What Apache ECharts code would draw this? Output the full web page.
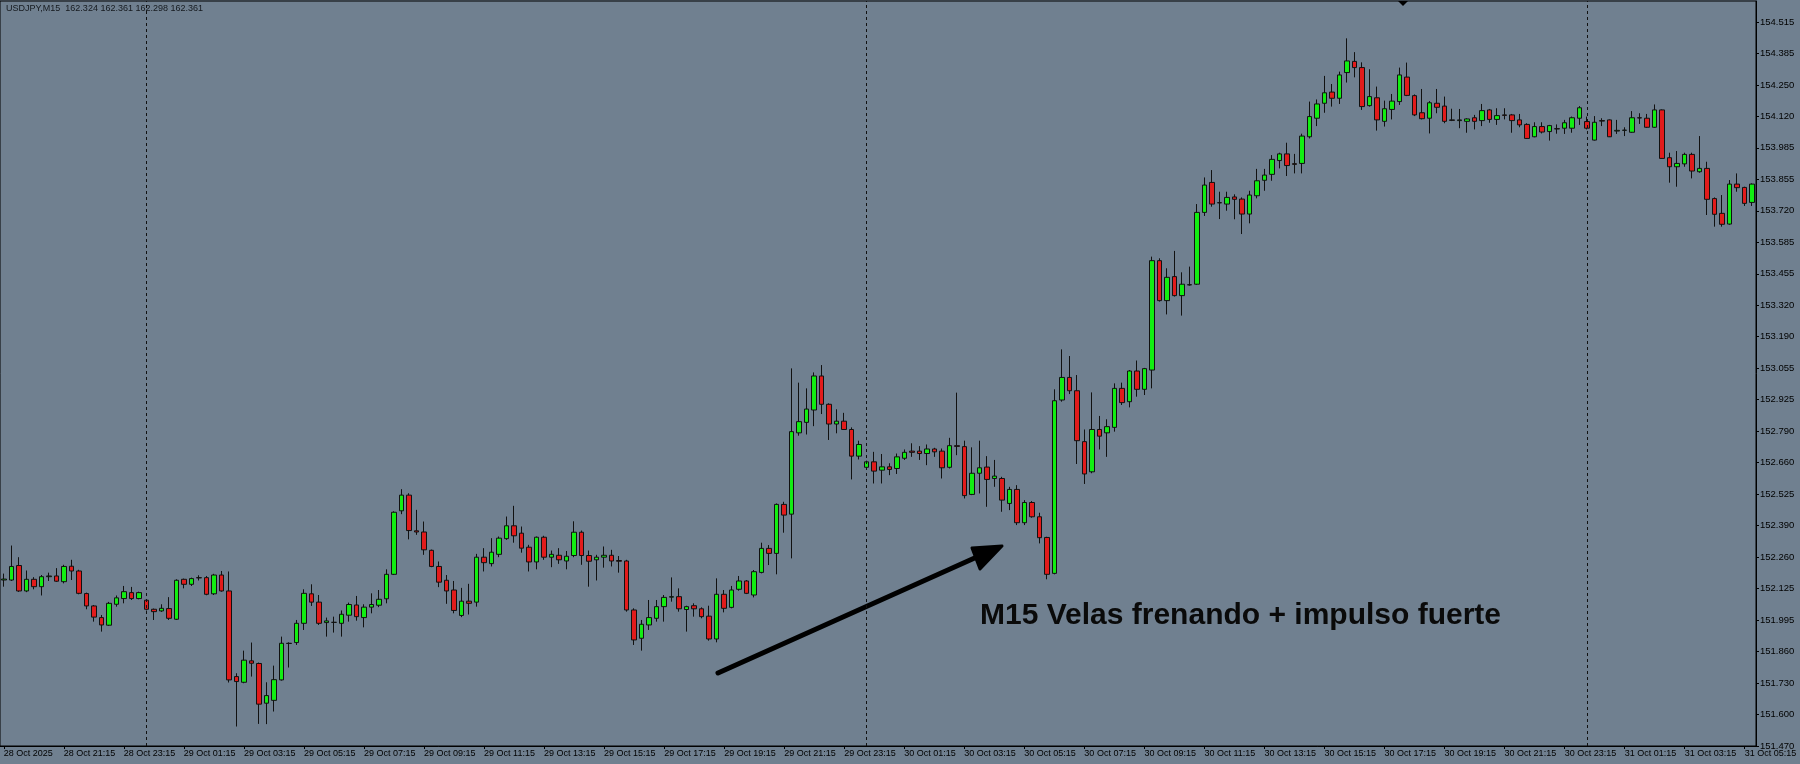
<!DOCTYPE html>
<html>
<head>
    <meta charset="utf-8">
    <title>USDJPY M15</title>
    <script src="https://cdn.jsdelivr.net/npm/echarts@6/dist/echarts.min.js"></script>
    <style>
        html, body { margin: 0; padding: 0; background: #708090; }
        #main { width: 1800px; height: 764px; }
    </style>
</head>
<body>
    <div id="main"></div>
    <script type="text/javascript">
        // USDJPY M15 candles, 28 Oct 19:15 .. 31 Oct 05:30
        var opens = [
            152.168,152.168,152.229,152.122,152.171,152.140,152.182,152.185,152.161,152.226,
            152.206,152.111,152.059,152.010,151.978,152.066,152.090,152.115,152.090,152.083,
            152.045,152.038,152.048,152.003,152.171,152.150,152.178,152.178,152.110,152.189,
            152.122,151.762,151.738,151.828,151.817,151.650,151.662,151.748,151.901,151.905,
            151.986,152.110,152.075,151.989,151.990,151.986,152.020,152.063,152.010,152.054,
            152.062,152.089,152.192,152.459,152.525,152.375,152.370,152.293,152.225,152.167,
            152.126,152.019,152.079,152.075,152.264,152.237,152.276,152.342,152.396,152.365,
            152.306,152.244,152.348,152.264,152.272,152.248,152.271,152.369,152.271,152.253,
            152.264,152.272,152.250,152.248,152.042,151.923,151.979,152.007,152.056,152.096,
            152.098,152.044,152.060,152.047,152.016,151.920,152.108,152.053,152.129,152.164,
            152.105,152.200,152.301,152.280,152.486,152.445,152.787,152.831,152.883,153.026,
            152.907,152.824,152.836,152.801,152.689,152.642,152.665,152.630,152.644,152.637,
            152.680,152.710,152.710,152.700,152.719,152.710,152.642,152.733,152.729,152.528,
            152.617,152.643,152.595,152.595,152.490,152.549,152.409,152.494,152.434,152.347,
            152.196,152.925,153.020,152.964,152.750,152.623,152.801,152.787,152.810,152.974,
            152.918,153.047,152.970,153.051,153.511,153.343,153.444,153.364,153.409,153.412,
            153.714,153.840,153.755,153.749,153.779,153.770,153.707,153.784,153.849,153.874,
            153.932,153.960,153.919,153.920,154.032,154.110,154.173,154.220,154.194,154.302,
            154.349,154.323,154.163,154.196,154.097,154.147,154.180,154.283,154.205,154.133,
            154.110,154.173,154.161,154.103,154.100,154.097,154.112,154.100,154.145,154.105,
            154.124,154.124,154.103,154.084,154.032,154.075,154.054,154.066,154.068,154.068,
            154.110,154.096,154.018,154.100,154.103,154.056,154.059,154.051,154.112,154.110,
            154.072,154.145,153.944,153.906,153.918,153.958,153.885,153.899,153.772,153.710,
            153.665,153.833,153.819,153.756
        ];
        var highs = [
            152.195,152.313,152.264,152.208,152.180,152.189,152.199,152.218,152.232,152.253,
            152.211,152.115,152.063,152.021,152.076,152.103,152.143,152.139,152.119,152.087,
            152.048,152.066,152.096,152.171,152.174,152.178,152.188,152.185,152.194,152.206,
            152.204,151.776,151.871,151.905,151.821,151.738,151.808,151.930,151.906,152.000,
            152.129,152.150,152.105,152.010,152.014,152.040,152.073,152.101,152.066,152.112,
            152.126,152.213,152.457,152.550,152.533,152.463,152.414,152.296,152.246,152.189,
            152.164,152.135,152.152,152.278,152.302,152.344,152.351,152.435,152.480,152.393,
            152.316,152.351,152.354,152.292,152.302,152.290,152.415,152.376,152.292,152.274,
            152.309,152.295,152.269,152.253,152.049,152.000,152.084,152.084,152.105,152.179,
            152.133,152.060,152.070,152.053,152.060,152.175,152.126,152.143,152.185,152.168,
            152.210,152.325,152.315,152.490,152.497,153.058,152.998,152.974,153.041,153.072,
            152.911,152.886,152.871,152.810,152.754,152.670,152.707,152.698,152.659,152.700,
            152.717,152.743,152.731,152.738,152.724,152.721,152.766,152.956,152.754,152.726,
            152.754,152.689,152.673,152.602,152.560,152.567,152.504,152.500,152.451,152.350,
            152.970,153.138,153.110,153.030,152.801,152.957,152.858,152.844,152.995,152.998,
            153.051,153.091,153.060,153.528,153.521,153.479,153.552,153.462,153.486,153.749,
            153.861,153.892,153.801,153.801,153.790,153.777,153.805,153.897,153.897,153.955,
            153.965,154.007,153.960,154.045,154.180,154.189,154.288,154.254,154.306,154.446,
            154.388,154.345,154.316,154.243,154.184,154.212,154.323,154.344,154.210,154.233,
            154.182,154.233,154.201,154.150,154.149,154.110,154.124,154.170,154.149,154.152,
            154.152,154.128,154.128,154.089,154.093,154.093,154.082,154.084,154.103,154.117,
            154.161,154.117,154.119,154.110,154.105,154.103,154.072,154.140,154.131,154.128,
            154.168,154.147,153.965,153.972,153.965,153.965,154.035,153.927,153.777,153.787,
            153.850,153.878,153.822,153.836
        ];
        var lows = [
            152.140,152.164,152.118,152.117,152.129,152.103,152.164,152.160,152.154,152.168,
            152.108,152.045,151.993,151.951,151.975,152.056,152.070,152.084,152.087,152.040,
            152.000,152.034,152.000,152.000,152.133,152.143,152.166,152.104,152.105,152.119,
            151.737,151.552,151.734,151.762,151.563,151.562,151.615,151.745,151.800,151.895,
            151.958,152.059,151.979,151.930,151.947,151.930,151.993,151.997,151.969,152.028,
            152.054,152.070,152.189,152.445,152.339,152.358,152.274,152.222,152.138,152.068,
            152.028,152.012,152.023,152.056,152.204,152.225,152.264,152.337,152.325,152.283,
            152.204,152.213,152.253,152.222,152.236,152.213,152.264,152.232,152.140,152.166,
            152.220,152.225,152.199,152.035,151.895,151.871,151.958,151.993,151.993,152.077,
            152.035,151.951,152.014,152.007,151.913,151.906,152.032,152.049,152.123,152.109,
            152.095,152.196,152.231,152.192,152.367,152.259,152.775,152.780,152.815,152.866,
            152.757,152.785,152.799,152.591,152.675,152.637,152.574,152.574,152.609,152.614,
            152.673,152.686,152.673,152.651,152.686,152.595,152.637,152.693,152.511,152.525,
            152.532,152.476,152.560,152.455,152.462,152.399,152.399,152.430,152.322,152.171,
            152.192,152.918,152.950,152.656,152.572,152.617,152.717,152.686,152.792,152.904,
            152.894,152.939,152.946,152.974,153.339,153.285,153.360,153.280,153.406,153.409,
            153.699,153.738,153.686,153.721,153.685,153.623,153.668,153.773,153.805,153.847,
            153.899,153.867,153.878,153.878,154.025,154.077,154.133,154.159,154.170,154.260,
            154.282,154.145,154.159,154.058,154.075,154.105,154.166,154.203,154.119,154.105,
            154.046,154.131,154.089,154.098,154.068,154.049,154.063,154.077,154.091,154.082,
            154.105,154.049,154.072,154.023,154.030,154.046,154.016,154.045,154.044,154.049,
            154.082,154.063,154.016,154.077,154.031,154.044,154.035,154.049,154.086,154.069,
            154.070,153.940,153.839,153.822,153.906,153.857,153.881,153.703,153.654,153.654,
            153.662,153.801,153.741,153.741
        ];
        var closes = [
            152.172,152.225,152.122,152.171,152.140,152.182,152.185,152.163,152.225,152.206,
            152.112,152.059,152.012,151.979,152.070,152.093,152.119,152.090,152.115,152.045,
            152.035,152.049,152.007,152.167,152.150,152.174,152.177,152.108,152.189,152.122,
            151.748,151.741,151.831,151.818,151.646,151.682,151.749,151.902,151.902,151.986,
            152.112,152.075,151.986,151.996,151.990,152.024,152.065,152.014,152.054,152.065,
            152.087,152.192,152.453,152.525,152.376,152.370,152.295,152.225,152.159,152.122,
            152.040,152.079,152.070,152.264,152.241,152.285,152.344,152.396,152.354,152.302,
            152.244,152.348,152.264,152.276,152.253,152.268,152.369,152.271,152.247,152.264,
            152.272,152.248,152.247,152.042,151.916,151.982,152.010,152.056,152.095,152.098,
            152.047,152.056,152.047,152.014,151.920,152.108,152.049,152.126,152.164,152.112,
            152.203,152.301,152.280,152.486,152.441,152.792,152.834,152.887,153.026,152.907,
            152.824,152.836,152.801,152.689,152.738,152.665,152.626,152.644,152.633,152.686,
            152.705,152.705,152.700,152.719,152.707,152.640,152.733,152.730,152.523,152.617,
            152.640,152.591,152.605,152.504,152.549,152.409,152.494,152.434,152.346,152.192,
            152.922,153.020,152.964,152.754,152.614,152.801,152.773,152.813,152.974,152.914,
            153.047,152.970,153.057,153.511,153.343,153.441,153.364,153.412,153.410,153.714,
            153.829,153.749,153.754,153.777,153.769,153.707,153.787,153.847,153.871,153.937,
            153.960,153.911,153.916,154.035,154.117,154.170,154.217,154.194,154.292,154.351,
            154.323,154.159,154.201,154.103,154.150,154.182,154.292,154.206,154.124,154.108,
            154.175,154.156,154.097,154.101,154.103,154.107,154.097,154.142,154.105,154.121,
            154.122,154.100,154.082,154.025,154.075,154.052,154.079,154.065,154.091,154.112,
            154.154,154.068,154.093,154.098,154.032,154.059,154.060,154.112,154.111,154.072,
            154.145,153.941,153.906,153.920,153.958,153.888,153.899,153.769,153.706,153.664,
            153.833,153.818,153.752,153.833
        ];

        // price scale labels as MT4 prints them (bottom to top)
        var yTickLabels = ['151.470','151.600','151.730','151.860','151.995','152.125','152.260',
            '152.390','152.525','152.660','152.790','152.925','153.055','153.190','153.320',
            '153.455','153.585','153.720','153.855','153.985','154.120','154.250','154.385','154.515'];
        var yMin = 151.470;
        var yStep = 3.045 / 23;
        var yMax = 154.603;

        // bar times: first bar 28 Oct 19:15, one bar every 15 minutes
        var firstBarDay = 28, firstBarMinute = 19 * 60 + 15;
        var separatorBars = [19, 115, 211];   // day starts
        var firstLabel = '28 Oct 2025';
        var headerText = 'USDJPY,M15  162.324 162.361 162.298 162.361';
        var noteText = 'M15 Velas frenando + impulso fuerte';

        function pad(n) { return (n < 10 ? '0' : '') + n; }
        var times = [];
        for (var i = 0; i < opens.length; i++) {
            var m = firstBarMinute + 15 * i;
            var d = firstBarDay + Math.floor(m / 1440);
            m = m % 1440;
            times.push(d + ' Oct ' + pad(Math.floor(m / 60)) + ':' + pad(m % 60));
        }

        var candles = [];
        for (var j = 0; j < opens.length; j++) {
            candles.push([opens[j], closes[j], lows[j], highs[j]]);
        }

        function showTimeLabel(idx) {
            return idx === 0 || (idx >= 8 && (idx - 8) % 8 === 0);
        }

        var myChart = echarts.init(document.getElementById('main'), null, { renderer: 'canvas' });

        var option = {
            backgroundColor: '#708090',
            animation: false,
            grid: {
                left: 0, right: 44, top: 1, bottom: 18,
                show: true, borderColor: '#000', borderWidth: 1,
                backgroundColor: 'transparent'
            },
            xAxis: {
                type: 'category',
                data: times,
                boundaryGap: true,
                axisLine: { lineStyle: { color: '#000', width: 1 } },
                axisTick: { show: true, alignWithLabel: true, length: 3, interval: showTimeLabel,
                            lineStyle: { color: '#000' } },
                axisLabel: {
                    interval: showTimeLabel,
                    align: 'left',
                    margin: 3,
                    color: '#000',
                    fontSize: 9,
                    fontFamily: 'Liberation Sans',
                    formatter: function (val, idx) { return idx === 0 ? firstLabel : val; }
                },
                splitLine: { show: false }
            },
            yAxis: {
                type: 'value',
                position: 'right',
                min: yMin,
                max: yMax,
                interval: yStep,
                axisLine: { show: true, lineStyle: { color: '#000', width: 1 } },
                axisTick: { show: true, length: 3, lineStyle: { color: '#000' } },
                axisLabel: {
                    margin: 4,
                    color: '#000',
                    fontSize: 9.5,
                    fontFamily: 'Liberation Sans',
                    showMaxLabel: false,
                    formatter: function (v) {
                        var k = Math.round((v - yMin) / yStep);
                        if (k >= 0 && k < yTickLabels.length && Math.abs(v - (yMin + k * yStep)) < 1e-4) {
                            return yTickLabels[k];
                        }
                        return '';
                    }
                },
                splitLine: { show: false }
            },
            series: [{
                type: 'candlestick',
                data: candles,
                barWidth: 5,
                itemStyle: {
                    color: '#12ee12',
                    color0: '#e21b1b',
                    borderColor: '#111',
                    borderColor0: '#111',
                    borderWidth: 1
                },
                markLine: {
                    silent: true,
                    symbol: ['none', 'none'],
                    label: { show: false },
                    lineStyle: { color: '#111', width: 1, type: [3, 3] },
                    data: separatorBars.map(function (b) { return { xAxis: times[b] }; })
                }
            }],
            graphic: [
                {
                    type: 'text', left: 6, top: 4,
                    style: { text: headerText, fill: '#15191e', font: '9px "Liberation Sans"' }
                },
                {
                    type: 'polygon',
                    shape: { points: [[1398, 1], [1408, 1], [1403, 6]] },
                    style: { fill: '#000' }
                },
                {
                    type: 'line',
                    shape: { x1: 718, y1: 673, x2: 988, y2: 552 },
                    style: { stroke: '#000', lineWidth: 5, lineCap: 'round' }
                },
                {
                    type: 'polygon',
                    shape: { points: [[972, 548], [1002, 546], [980, 569]] },
                    style: { fill: '#000', stroke: '#000', lineWidth: 3, lineJoin: 'round' }
                },
                {
                    type: 'text', x: 980, y: 616,
                    style: {
                        text: noteText, fill: '#0a0a0a',
                        font: 'bold 30px "Liberation Sans"',
                        verticalAlign: 'middle'
                    }
                }
            ]
        };

        myChart.setOption(option);
    </script>
</body>
</html>
